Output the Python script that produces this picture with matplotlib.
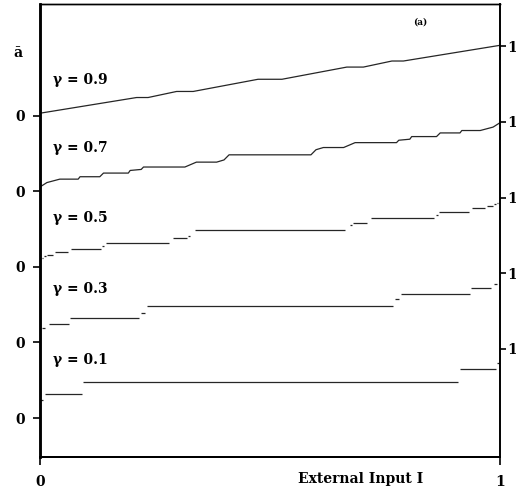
import matplotlib
matplotlib.use("Agg")
import matplotlib.pyplot as plt
import matplotlib.transforms as mtransforms

# ---------------- data ----------------
gammas = ["γ = 0.1", "γ = 0.3", "γ = 0.5", "γ = 0.7", "γ = 0.9"]

# gamma = 0.1 : plateaus (level, start, end)
g01_level = [0.25, 0.333, 0.5, 0.667, 0.75]
g01_start = [0.001, 0.011, 0.093, 0.913, 0.994]
g01_end = [0.006, 0.091, 0.909, 0.991, 0.999]

# gamma = 0.3 : plateaus
g03_level = [0.2, 0.25, 0.333, 0.4, 0.5, 0.6, 0.667, 0.75, 0.8]
g03_start = [0.005, 0.020, 0.065, 0.220, 0.232, 0.772, 0.785, 0.938, 0.988]
g03_end = [0.011, 0.062, 0.215, 0.228, 0.768, 0.780, 0.935, 0.980, 0.994]

# gamma = 0.5 : plateaus
g05_level = [0.111, 0.125, 0.143, 0.167, 0.2, 0.25, 0.286, 0.333, 0.4, 0.429,
             0.5, 0.571, 0.6, 0.667, 0.714, 0.75, 0.8, 0.833, 0.857, 0.875, 0.889]
g05_start = [0.000, 0.004, 0.008, 0.0146, 0.033, 0.067, 0.134, 0.143, 0.290, 0.322,
             0.337, 0.673, 0.681, 0.719, 0.861, 0.868, 0.9385, 0.971, 0.988, 0.993, 0.997]
g05_end = [0.003, 0.007, 0.012, 0.029, 0.0615, 0.132, 0.139, 0.281, 0.319, 0.327,
           0.663, 0.678, 0.710, 0.857, 0.866, 0.933, 0.967, 0.9854, 0.992, 0.996, 1.000]

# gamma = 0.7 : staircase polyline
g07_x = [0.0, 0.015, 0.043, 0.083, 0.087, 0.13, 0.138, 0.192, 0.196, 0.22, 0.225,
         0.315, 0.34, 0.384, 0.40, 0.411, 0.589, 0.60, 0.616, 0.66, 0.685, 0.775,
         0.78, 0.804, 0.808, 0.862, 0.87, 0.913, 0.917, 0.957, 0.985, 1.0]
g07_y = [0.06, 0.12, 0.167, 0.167, 0.2, 0.2, 0.25, 0.25, 0.286, 0.30, 0.333,
         0.333, 0.4, 0.4, 0.43, 0.5, 0.5, 0.57, 0.6, 0.6, 0.667, 0.667,
         0.70, 0.714, 0.75, 0.75, 0.8, 0.8, 0.833, 0.833, 0.88, 0.94]

# gamma = 0.9 : nearly linear polyline
g09_x = [0.0, 0.21, 0.235, 0.297, 0.333, 0.474, 0.526, 0.667, 0.703, 0.765, 0.79, 1.0]
g09_y = [0.035, 0.25, 0.25, 0.333, 0.333, 0.5, 0.5, 0.667, 0.667, 0.75, 0.75, 0.965]

offsets = [0.0, 1.035, 2.07, 3.105, 4.14]
label_y = [0.795, 0.732, 0.67, 0.595, 0.49]
left_tick_labels = ["0", "0", "0", "0", "0"]
right_tick_labels = ["1", "1", "1", "1", "1"]
x_tick_labels = ["0", "1"]

# ---------------- figure ----------------
plt.rcParams['font.family'] = ['DejaVu Serif']
plt.rcParams['font.weight'] = 'bold'

fig = plt.figure(figsize=(5.16, 4.90), dpi=100)
ax = fig.add_axes([40 / 516, 1 - 457 / 490, 460 / 516, 453 / 490])
ax.set_xlim(0, 1)
ax.set_ylim(-0.534, 5.671)

lc = "#262626"
lw = 0.9

for lev, s, e in zip(g01_level, g01_start, g01_end):
    ax.hlines(lev + offsets[0], s, e, color=lc, lw=lw)
for lev, s, e in zip(g03_level, g03_start, g03_end):
    ax.hlines(lev + offsets[1], s, e, color=lc, lw=lw)
for lev, s, e in zip(g05_level, g05_start, g05_end):
    ax.hlines(lev + offsets[2], s, e, color=lc, lw=lw)
ax.plot(g07_x, [v + offsets[3] for v in g07_y], color=lc, lw=lw)
ax.plot(g09_x, [v + offsets[4] for v in g09_y], color=lc, lw=lw)

for g, off, ly in zip(gammas, offsets, label_y):
    ax.text(0.028, off + ly, g, fontsize=10, fontweight='bold', ha='left', va='center')

# left ticks
ax.set_yticks(offsets)
ax.set_yticklabels(left_tick_labels, fontsize=10, fontweight='bold')
ax.tick_params(axis='y', direction='out', length=5, width=1.2, pad=6)

# x ticks
ax.set_xticks([0, 1])
ax.set_xticklabels(x_tick_labels, fontsize=10, fontweight='bold')
ax.tick_params(axis='x', direction='out', length=6, width=1.2, pad=7)

# right ticks
ax2 = ax.twinx()
ax2.set_ylim(ax.get_ylim())
ax2.set_yticks([o + 0.95 for o in offsets])
ax2.set_yticklabels(right_tick_labels, fontsize=10, fontweight='bold')
ax2.tick_params(axis='y', direction='out', length=4, width=1.2, pad=1.5)

for a in (ax, ax2):
    a.spines['left'].set_linewidth(1.8)
    a.spines['bottom'].set_linewidth(1.4)
    a.spines['right'].set_linewidth(1.2)
    a.spines['top'].set_linewidth(1.0)

trans = mtransforms.blended_transform_factory(ax.transData, ax.transAxes)
ax.text(0.696, -0.0486, "External Input I", transform=trans, fontsize=10,
        fontweight='bold', ha='center', va='center')
ax.text(0.827, 0.96, "(a)", transform=ax.transAxes, fontsize=6.5,
        fontweight='bold', ha='center', va='center')
fig.text(18 / 516, 1 - 53 / 490, "ā", fontsize=10, fontweight='bold',
         ha='center', va='center')

fig.savefig("out.png", dpi=100)
